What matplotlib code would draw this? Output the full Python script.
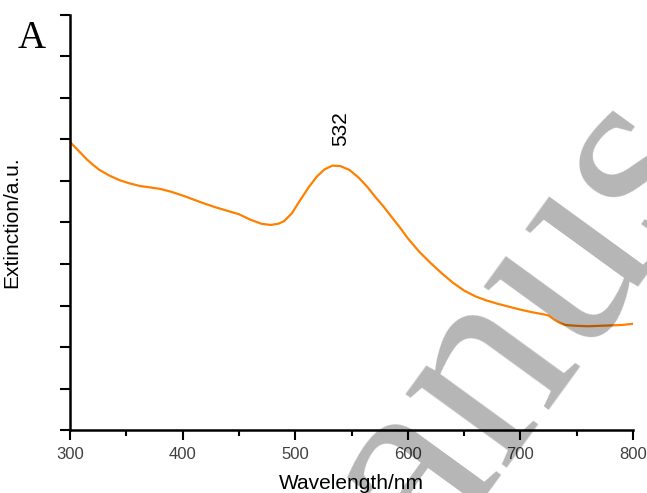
import matplotlib
matplotlib.use("Agg")
import matplotlib.pyplot as plt
from matplotlib.ticker import MultipleLocator

wavelength = [300, 305, 310, 315, 320, 326, 335, 344, 352, 362, 370, 380, 390, 400,
              410, 420, 430, 440, 450, 460, 470, 478, 485, 490, 497, 504, 512, 519,
              526, 533, 540, 548, 556, 564, 571, 578, 586, 593, 600, 610, 620, 630,
              640, 650, 660, 670, 680, 690, 700, 710, 720, 725, 730, 735, 740, 750,
              760, 770, 780, 790, 800]
extinction = [6.94, 6.80, 6.66, 6.52, 6.40, 6.27, 6.13, 6.02, 5.95, 5.88, 5.85, 5.81,
              5.74, 5.65, 5.55, 5.45, 5.36, 5.28, 5.20, 5.07, 4.97, 4.94, 4.97, 5.03,
              5.22, 5.52, 5.85, 6.10, 6.28, 6.37, 6.36, 6.27, 6.09, 5.86, 5.62, 5.40,
              5.12, 4.88, 4.62, 4.30, 4.03, 3.78, 3.55, 3.36, 3.22, 3.12, 3.04, 2.97,
              2.90, 2.84, 2.79, 2.76, 2.66, 2.58, 2.53, 2.51, 2.50, 2.51, 2.52, 2.53,
              2.56]
peak_label = "532"
peak_label_x = 540

fig = plt.figure(figsize=(6.47, 4.93), dpi=100)
ax = fig.add_axes([70/647, 63/493, 563/647, 415/493])

ax.plot(wavelength, extinction, color="#ff8000", lw=1.6)
ax.set_xlim(300, 800)
ax.set_ylim(0, 10)

for s in ["top", "right"]:
    ax.spines[s].set_visible(False)
for s in ["left", "bottom"]:
    ax.spines[s].set_linewidth(1.8)

ax.xaxis.set_major_locator(MultipleLocator(100))
ax.xaxis.set_minor_locator(MultipleLocator(50))
ax.yaxis.set_major_locator(MultipleLocator(1))
ax.tick_params(axis="x", which="major", direction="out", length=7, width=1.5,
               labelsize=12, labelcolor="#404040", pad=5)
ax.tick_params(axis="x", which="minor", direction="out", length=4, width=1.5)
ax.tick_params(axis="y", which="major", direction="out", length=7, width=1.5,
               labelleft=False)
for lab in ax.get_xticklabels():
    lab.set_family("Liberation Sans")

ax.set_xlabel("Wavelength/nm", fontsize=15, family="Liberation Sans", labelpad=9)
ax.set_ylabel("Extinction/a.u.", fontsize=15, family="Liberation Sans", labelpad=28)

ax.text(peak_label_x, 6.85, peak_label, rotation=90, ha="center", va="bottom",
        fontsize=15, family="Liberation Sans")

fig.text(18/647, 1 - 48/493, "A", fontsize=28, family="Liberation Serif",
         ha="left", va="baseline")

fig.text(522/647, 1 - 322/493, "anus", fontsize=195, family="Liberation Serif",
         rotation=54, rotation_mode="anchor", ha="center", va="center",
         color="black", alpha=0.29, zorder=10)

fig.savefig("out.png", dpi=100)
